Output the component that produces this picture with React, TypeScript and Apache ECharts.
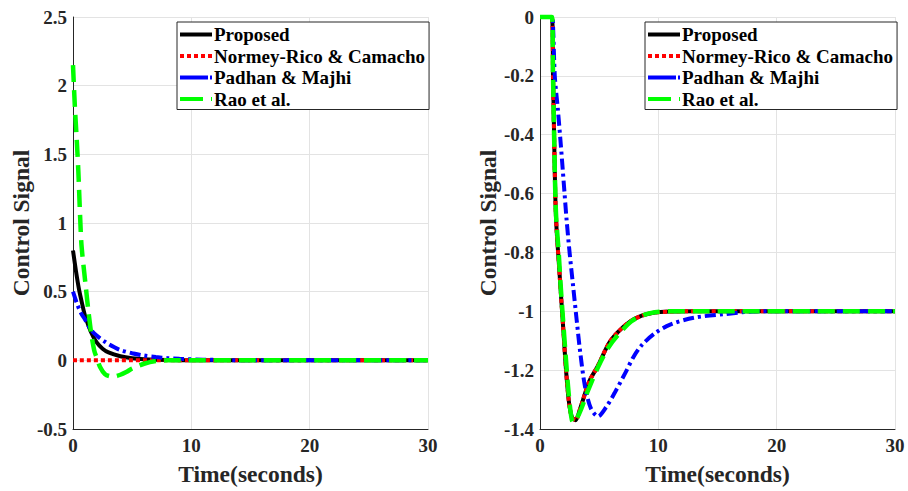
import React, { useEffect, useRef } from "react";
import * as echarts from "echarts";

// ---------- data ----------
const seriesNames = ["Proposed", "Normey-Rico & Camacho", "Padhan & Majhi", "Rao et al."];

const xTicks = [0, 10, 20, 30];
const yTicksLeft = [-0.5, 0, 0.5, 1, 1.5, 2, 2.5];
const yTicksRight = [-1.4, -1.2, -1, -0.8, -0.6, -0.4, -0.2, 0];

// Left plot
const propLT = [0, 0.25, 0.5, 0.75, 1, 1.5, 2, 2.5, 3, 4, 5, 6, 8, 10, 30];
const propLV = [0.8, 0.65, 0.52, 0.42, 0.33, 0.21, 0.13, 0.085, 0.058, 0.03, 0.015, 0.008, 0.002, 0, 0];

const normLT = [0, 30];
const normLV = [0, 0];

const padLT = [0, 0.35, 0.7, 1, 1.5, 2, 2.7, 3.5, 4, 5, 6, 7, 8, 9, 11, 14, 30];
const padLV = [0.5, 0.41, 0.34, 0.3, 0.225, 0.18, 0.135, 0.095, 0.075, 0.052, 0.035, 0.024, 0.016, 0.011, 0.005, 0.001, 0];

const raoLT = [0, 0.15, 0.3, 0.45, 0.6, 0.7, 0.8, 0.95, 1.1, 1.3, 1.55, 1.8, 2.0, 2.3, 2.7, 3.1, 3.5, 4, 4.5, 5, 6, 7, 8, 30];
const raoLV = [2.15, 1.86, 1.63, 1.38, 1.05, 0.86, 0.76, 0.64, 0.52, 0.36, 0.19, 0.07, 0.02, -0.05, -0.1, -0.115, -0.117, -0.105, -0.085, -0.06, -0.025, -0.005, 0, 0];

// Right plot
const propRT = [0, 1.0, 1.1, 1.2, 1.3, 1.4, 1.6, 1.8, 2.0, 2.2, 2.45, 2.7, 3.0, 3.4, 3.8, 4.2, 4.9, 5.8, 6.6, 7.6, 8.6, 9.6, 11, 13, 30];
const propRV = [0, 0, -0.2, -0.42, -0.62, -0.72, -0.84, -0.96, -1.08, -1.2, -1.31, -1.36, -1.37, -1.33, -1.28, -1.235, -1.185, -1.11, -1.07, -1.035, -1.015, -1.005, -1.001, -1, -1];

const normRT = [0, 1.0, 1.1, 1.2, 1.3, 1.4, 1.6, 1.8, 2.0, 2.2, 2.45, 2.7, 3.0, 3.4, 3.8, 4.2, 4.9, 5.8, 6.6, 7.6, 8.6, 9.6, 11, 13, 30];
const normRV = [0, 0, -0.2, -0.42, -0.62, -0.72, -0.84, -0.96, -1.08, -1.2, -1.31, -1.36, -1.37, -1.33, -1.28, -1.235, -1.185, -1.11, -1.07, -1.035, -1.015, -1.005, -1.001, -1, -1];

const padRT = [0, 1.0, 1.1, 1.25, 1.5, 1.75, 2.0, 2.25, 2.5, 2.8, 3.1, 3.4, 3.8, 4.3, 4.9, 5.6, 6.3, 7.2, 7.9, 8.6, 9.7, 11, 13, 15.5, 18.5, 30];
const padRV = [0, 0, -0.03, -0.2, -0.31, -0.43, -0.56, -0.69, -0.8, -0.915, -1.03, -1.14, -1.255, -1.33, -1.357, -1.325, -1.278, -1.21, -1.155, -1.115, -1.075, -1.045, -1.022, -1.01, -1.0, -1.0];

const raoRT = [0, 1.0, 1.1, 1.2, 1.3, 1.38, 1.58, 1.75, 1.95, 2.15, 2.37, 2.6, 2.8, 3.1, 3.5, 4.0, 4.9, 5.75, 6.6, 7.7, 8.8, 9.7, 11, 13, 30];
const raoRV = [0, 0, -0.2, -0.42, -0.61, -0.69, -0.8, -0.915, -1.03, -1.14, -1.255, -1.346, -1.378, -1.365, -1.33, -1.275, -1.19, -1.125, -1.08, -1.035, -1.012, -1.003, -1.0, -1, -1];

const colors = ["#000000", "#ff0000", "#0000ff", "#00ff00"];

// legend icons (32 x 4 line samples)
const legendIcons = [
  "path://M0 0h32v4h-32z",
  "path://M0 0h4v4h-4z M7 0h4v4h-4z M14 0h4v4h-4z M21 0h4v4h-4z M28 0h4v4h-4z",
  "path://M0 0h28v4h-28z M30 0h2v4h-2z",
  "path://M0 0h23v4h-23z M31 0h1v4h-1z",
];

const pairs = (t: number[], v: number[]) => t.map((x, i) => [x, v[i]]);

const FONT = "'Liberation Serif', 'Times New Roman', serif";

export default function App() {
  const ref = useRef<HTMLDivElement>(null);
  useEffect(() => {
    document.body.style.margin = "0";
    const chart = echarts.init(ref.current!, undefined, { renderer: "svg" });

    const styles = [
      { width: 4, type: "solid" as any, color: colors[0] },
      { width: 4, type: [4, 3] as any, color: colors[1], cap: "butt" },
      { width: 4, type: [11, 4, 3, 4] as any, color: colors[2], cap: "butt" },
      { width: 4.5, type: [17, 8] as any, color: colors[3], cap: "butt" },
    ];

    const leftData = [pairs(propLT, propLV), pairs(normLT, normLV), pairs(padLT, padLV), pairs(raoLT, raoLV)];
    const rightData = [pairs(propRT, propRV), pairs(normRT, normRV), pairs(padRT, padRV), pairs(raoRT, raoRV)];

    const mkSeries = (data: number[][][], idx: number) =>
      data.map((d, i) => ({
        type: "line",
        name: seriesNames[i],
        xAxisIndex: idx,
        yAxisIndex: idx,
        data: d,
        symbol: "none",
        showSymbol: false,
        smooth: 0.3,
        clip: false,
        lineStyle: styles[i],
        itemStyle: { color: colors[i] },
        z: 2 + i,
      }));

    const axisCommon = {
      axisLine: { show: true, onZero: false, lineStyle: { color: "#262626", width: 1 } },
      axisTick: { show: false },
      splitLine: { show: true, lineStyle: { color: "#e3e3e3", width: 1 } },
      axisLabel: { fontFamily: FONT, fontWeight: "bold", fontSize: 19, color: "#262626" },
      nameTextStyle: { fontFamily: FONT, fontWeight: "bold", fontSize: 23.5, color: "#262626" },
    };

    const xAxisCfg = (gi: number) => ({
      ...axisCommon,
      type: "value",
      gridIndex: gi,
      min: xTicks[0],
      max: xTicks[xTicks.length - 1],
      interval: xTicks[1] - xTicks[0],
      name: "Time(seconds)",
      nameLocation: "middle",
      nameGap: 33,
      axisLabel: { ...axisCommon.axisLabel, margin: 7 },
    });

    const yAxisCfg = (gi: number, ticks: number[]) => ({
      ...axisCommon,
      type: "value",
      gridIndex: gi,
      min: ticks[0],
      max: ticks[ticks.length - 1],
      interval: Math.round((ticks[1] - ticks[0]) * 10) / 10,
      name: "Control Signal",
      nameLocation: "middle",
      nameRotate: 90,
      nameGap: 40,
      axisLabel: { ...axisCommon.axisLabel, margin: 6 },
    });

    const legendCfg = (left: number) => ({
      show: true,
      left,
      top: 22,
      orient: "vertical",
      data: seriesNames.map((n, i) => ({ name: n, icon: legendIcons[i] })),
      symbolKeepAspect: false,
      backgroundColor: "#ffffff",
      borderColor: "#262626",
      borderWidth: 1,
      borderRadius: 0,
      padding: [3, 4, 1, 3],
      itemWidth: 32,
      itemHeight: 4,
      itemGap: 2.5,
      selectedMode: false,
      textStyle: { fontFamily: FONT, fontWeight: "bold", fontSize: 19, color: "#000", padding: [0, 0, 0, -3] },
    });

    chart.setOption({
      animation: false,
      backgroundColor: "#ffffff",
      grid: [
        { left: 73, right: 480, top: 17, bottom: 62, containLabel: false },
        { left: 540, right: 13, top: 17, bottom: 62, containLabel: false },
      ],
      xAxis: [xAxisCfg(0), xAxisCfg(1)],
      yAxis: [yAxisCfg(0, yTicksLeft), yAxisCfg(1, yTicksRight)],
      legend: [legendCfg(177), legendCfg(645)],
      series: [...mkSeries(leftData, 0), ...mkSeries(rightData, 1)],
    });
    return () => chart.dispose();
  }, []);
  return <div ref={ref} style={{ width: 908, height: 491 }} />;
}
